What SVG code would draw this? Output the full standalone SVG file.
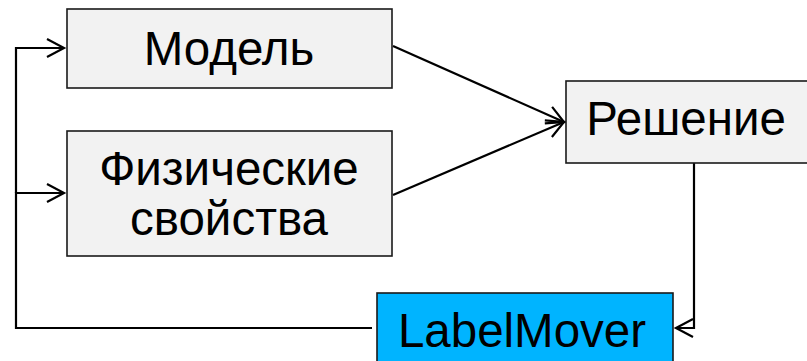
<svg xmlns="http://www.w3.org/2000/svg" width="807" height="361" viewBox="0 0 807 361">
<style>
.box{fill:#f2f2f2;stroke:#1a1a1a;stroke-width:1.6}
.lm{fill:#00b4ff;stroke:#1a1a1a;stroke-width:1.6}
.t{font-family:"Liberation Sans",Arial,sans-serif;font-size:47.5px;fill:#000;text-anchor:middle}
.c{fill:none;stroke:#000;stroke-width:2.2}
</style>
<defs>
<marker id="a" markerUnits="userSpaceOnUse" markerWidth="24" markerHeight="24" refX="20" refY="12" orient="auto" viewBox="0 0 24 24">
<path d="M3,3 L20,12 L3,21" fill="none" stroke="#000" stroke-width="2.2"/>
</marker>
</defs>
<rect width="807" height="361" fill="#fff"/>
<g id="connectors">
<path class="c" d="M393,46 L564,122" marker-end="url(#a)"/>
<path class="c" d="M393,195 L564,122" marker-end="url(#a)"/>
<path class="c" d="M694,163 L694,328 L676,328" marker-end="url(#a)"/>
<path class="c" d="M372,328 L16,328 L16,193 L64,193" marker-end="url(#a)"/>
<path class="c" d="M16,193 L16,48 L64,48" marker-end="url(#a)"/>
</g>
<g id="model">
<rect class="box" x="67" y="9" width="325" height="79"/>
<text class="t" x="229" y="65">Модель</text>
</g>
<g id="physics">
<rect class="box" x="67" y="131" width="325" height="125"/>
<text class="t" x="229" y="185">Физические</text>
<text class="t" x="229" y="235">свойства</text>
</g>
<g id="solution">
<rect class="box" x="566" y="81" width="250" height="82"/>
<text class="t" x="686" y="135">Решение</text>
</g>
<g id="labelmover">
<rect class="lm" x="377" y="293" width="296" height="80"/>
<text class="t" x="522" y="347">LabelMover</text>
</g>
</svg>
